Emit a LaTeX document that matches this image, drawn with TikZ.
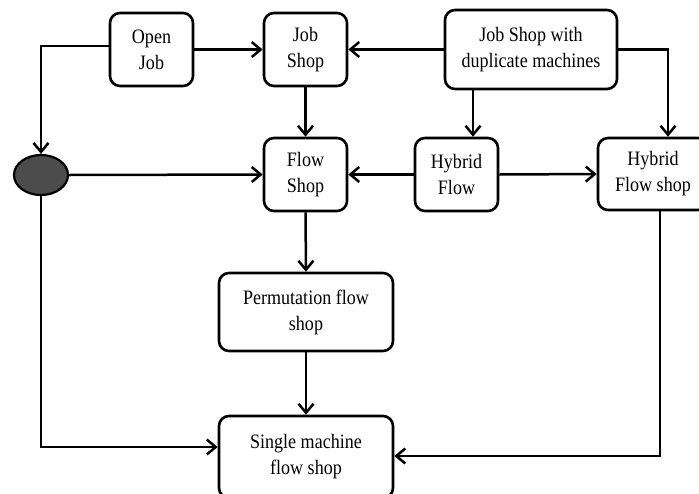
\documentclass[tikz,border=0pt]{standalone}
\usepackage{fontspec}
\setmainfont{Liberation Serif}[FakeStretch=0.88]
\usetikzlibrary{arrows.meta,shapes.geometric}

\tikzset{
  box/.style={draw, line width=2.6pt, rounded corners=10pt, fill=white,
    align=center, inner sep=0pt,
    font=\fontsize{20.5}{26}\selectfont},
  arr/.style={draw, line width=2.5pt, -{Straight Barb[length=9pt,width=15pt]}},
  junction/.style={ellipse, draw, line width=2.2pt, fill=black!70,
    minimum width=54pt, minimum height=40pt, inner sep=0pt}
}

\begin{document}
\begin{tikzpicture}[x=1pt, y=-1pt]
  \useasboundingbox (0,0) rectangle (699,493);
  \fill[white] (0,0) rectangle (699,493);
  \clip (0,0) rectangle (699,493);

  % process families
  \node[box, minimum width=83pt, minimum height=73pt] (oj) at (151.5,49.5) {Open\\Job};
  \node[box, minimum width=83pt, minimum height=73pt] (js) at (305.5,49.5) {Job\\Shop};
  \node[box, minimum width=172pt, minimum height=79pt] (jsd) at (531,49.5) {Job Shop with\\duplicate machines};
  \node[junction] (el) at (41,175) {};
  \node[box, minimum width=83pt, minimum height=73pt] (fs) at (305.5,174.5) {Flow\\Shop};
  \node[box, minimum width=83pt, minimum height=73pt] (hf) at (456.5,174.5) {Hybrid\\Flow};
  \node[box, minimum width=110pt, minimum height=72pt] (hfs) at (653,174) {Hybrid\\Flow shop};
  \node[box, minimum width=174pt, minimum height=78pt] (pf) at (306,312) {Permutation flow\\shop};
  \node[box, minimum width=174pt, minimum height=82pt] (sm) at (306,457) {Single machine\\flow shop};

  % routing columns and rows
  \coordinate (cHF) at (473,0);
  \coordinate (cHFS) at (668,0);
  \coordinate (cOut) at (660,0);
  \coordinate (rIn) at (0,447);
  \coordinate (rOut) at (0,456);

  % connectors
  \draw[arr] ([yshift=3.5pt]oj.west) -| (el.north);
  \draw[arr] (oj.east) -- (js.west);
  \draw[arr] (jsd.west) -- (js.east);
  \draw[arr] (jsd.south -| cHF) -- (hf.north -| cHF);
  \draw[arr] (jsd.east) -| (hfs.north -| cHFS);
  \draw[arr] (js.south) -- (fs.north);
  \draw[arr] (el.east) -- (fs.west);
  \draw[arr] (hf.west) -- (fs.east);
  \draw[arr] (hf.east) -- (hfs.west);
  \draw[arr] (fs.south) -- (pf.north);
  \draw[arr] (pf.south) -- (sm.north);
  \draw[arr] (el.south) |- (sm.west |- rIn);
  \draw[arr] (hfs.south -| cOut) |- (sm.east |- rOut);
\end{tikzpicture}
\end{document}
